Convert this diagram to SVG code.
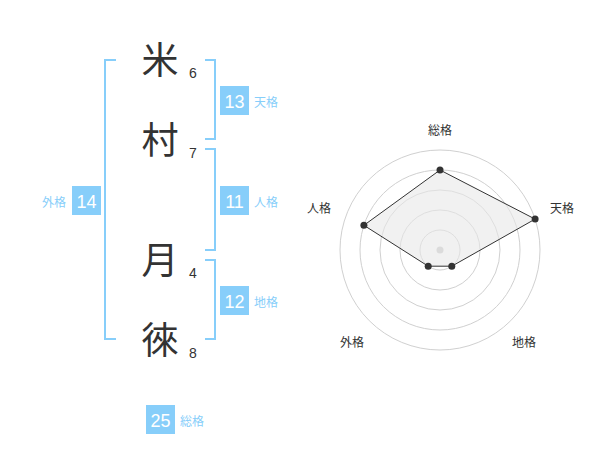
<svg xmlns="http://www.w3.org/2000/svg" width="600" height="470" viewBox="0 0 600 470">
<style>
.kanji{font-family:"Noto Sans CJK JP","Noto Sans CJK SC",sans-serif;font-size:37px;fill:#333;text-anchor:middle}
.stroke{font-family:"Liberation Sans",Arial,sans-serif;font-size:14px;fill:#333}
.box{fill:#87cefa}
.num{font-family:"Liberation Sans",Arial,sans-serif;font-size:18px;fill:#fff;text-anchor:middle}
.lbl{font-family:"Noto Sans CJK JP","Noto Sans CJK SC",sans-serif;font-size:12px;fill:#87cefa}
.br{fill:none;stroke:#87cefa;stroke-width:2}
.ring{fill:none;stroke:#d0d0d0;stroke-width:1}
.axis{font-family:"Noto Sans CJK JP","Noto Sans CJK SC",sans-serif;font-size:12px;fill:#333;text-anchor:middle}
.dot{fill:#333}
</style>
<g id="connectors">
<path class="br" d="M116,60 H105 V339 H116"/>
<path class="br" d="M205,60 H215 V139 H205"/>
<path class="br" d="M205,149 H215 V250 H205"/>
<path class="br" d="M205,260 H215 V339 H205"/>
</g>
<g id="char1"><text class="kanji" x="160" y="74">米</text><text class="stroke" x="189" y="78">6</text></g>
<g id="char2"><text class="kanji" x="160" y="154">村</text><text class="stroke" x="189" y="158">7</text></g>
<g id="char3"><text class="kanji" x="160" y="274">月</text><text class="stroke" x="189" y="278">4</text></g>
<g id="char4"><text class="kanji" x="160" y="354">徠</text><text class="stroke" x="189" y="358">8</text></g>
<g id="tenkaku"><rect class="box" x="220" y="86" width="29" height="29"/><text class="num" x="234.5" y="107.5">13</text><text class="lbl" x="254" y="107">天格</text></g>
<g id="jinkaku"><rect class="box" x="220" y="186" width="29" height="29"/><text class="num" x="234.5" y="207.5">11</text><text class="lbl" x="254" y="207">人格</text></g>
<g id="chikaku"><rect class="box" x="220" y="286" width="29" height="29"/><text class="num" x="234.5" y="307.5">12</text><text class="lbl" x="254" y="307">地格</text></g>
<g id="gaikaku"><rect class="box" x="72" y="186" width="29" height="29"/><text class="num" x="86.5" y="207.5">14</text><text class="lbl" x="66" y="207" text-anchor="end">外格</text></g>
<g id="soukaku"><rect class="box" x="146" y="405" width="29" height="29"/><text class="num" x="160.5" y="426.5">25</text><text class="lbl" x="180" y="426">総格</text></g>
<g id="radar">
<circle class="ring" cx="440" cy="250" r="20"/>
<circle class="ring" cx="440" cy="250" r="40"/>
<circle class="ring" cx="440" cy="250" r="60"/>
<circle class="ring" cx="440" cy="250" r="80"/>
<circle class="ring" cx="440" cy="250" r="100"/>
<circle cx="440" cy="250" r="3.5" fill="#c8c8c8"/>
<polygon points="440,170 535.1,219.1 451.8,266.2 428.2,266.2 363.9,225.3" fill="#e8e8e8" fill-opacity="0.6" stroke="#333" stroke-width="1"/>
<circle class="dot" cx="440" cy="170" r="3.5"/>
<circle class="dot" cx="535.1" cy="219.1" r="3.5"/>
<circle class="dot" cx="451.8" cy="266.2" r="3.5"/>
<circle class="dot" cx="428.2" cy="266.2" r="3.5"/>
<circle class="dot" cx="363.9" cy="225.3" r="3.5"/>
<text class="axis" x="440" y="135">総格</text>
<text class="axis" x="562" y="213">天格</text>
<text class="axis" x="319" y="213">人格</text>
<text class="axis" x="352" y="347">外格</text>
<text class="axis" x="524" y="347">地格</text>
</g>
</svg>
